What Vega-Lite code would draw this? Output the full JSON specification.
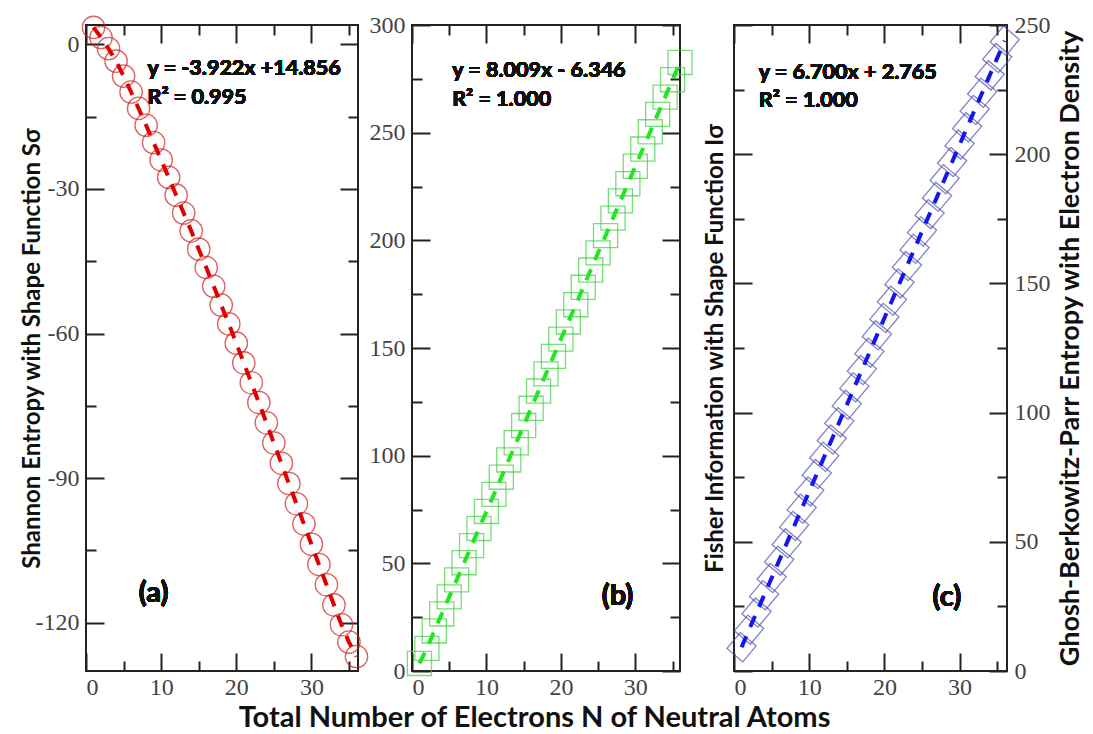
{
  "$schema": "https://vega.github.io/schema/vega-lite/v6.json",
  "background": "white",
  "padding": {"left": 19, "top": 12, "right": 0, "bottom": 0},
  "autosize": {"type": "pad"},
  "bounds": "flush",
  "spacing": 54,
  "config": {
    "view": {"stroke": "#222", "strokeWidth": 2},
    "axis": {
      "domain": false, "grid": false,
      "labelFont": "Liberation Serif", "labelFontSize": 24, "labelColor": "#444",
      "labelExpr": "replace(datum.label, '−', '-')",
      "tickColor": "#222", "tickWidth": 2,
      "titleFont": "Lato", "titleFontWeight": "bold", "titleFontSize": 24, "titleColor": "#111"
    }
  },
  "datasets": {
    "a": [
      {"N": 1, "v": 3.5}, {"N": 2, "v": 1.4}, {"N": 3, "v": -0.9}, {"N": 4, "v": -3.5},
      {"N": 5, "v": -6.6}, {"N": 6, "v": -9.9}, {"N": 7, "v": -13.3}, {"N": 8, "v": -16.8},
      {"N": 9, "v": -20.4}, {"N": 10, "v": -24.0}, {"N": 11, "v": -27.6}, {"N": 12, "v": -31.3},
      {"N": 13, "v": -35.0}, {"N": 14, "v": -38.7}, {"N": 15, "v": -42.5}, {"N": 16, "v": -46.3},
      {"N": 17, "v": -50.2}, {"N": 18, "v": -54.1}, {"N": 19, "v": -58.0}, {"N": 20, "v": -62.0},
      {"N": 21, "v": -66.1}, {"N": 22, "v": -70.2}, {"N": 23, "v": -74.3}, {"N": 24, "v": -78.5},
      {"N": 25, "v": -82.7}, {"N": 26, "v": -86.9}, {"N": 27, "v": -91.1}, {"N": 28, "v": -95.3},
      {"N": 29, "v": -99.5}, {"N": 30, "v": -103.7}, {"N": 31, "v": -107.9}, {"N": 32, "v": -112.1},
      {"N": 33, "v": -116.3}, {"N": 34, "v": -120.4}, {"N": 35, "v": -124.0}, {"N": 36, "v": -127.0}
    ],
    "b": [
      {"N": 1, "v": 3.5}, {"N": 2, "v": 10.5}, {"N": 3, "v": 18.6}, {"N": 4, "v": 26.5},
      {"N": 5, "v": 34.4}, {"N": 6, "v": 42.3}, {"N": 7, "v": 50.3}, {"N": 8, "v": 58.2},
      {"N": 9, "v": 66.2}, {"N": 10, "v": 74.1}, {"N": 11, "v": 82.0}, {"N": 12, "v": 90.0},
      {"N": 13, "v": 98.0}, {"N": 14, "v": 106.0}, {"N": 15, "v": 114.0}, {"N": 16, "v": 122.0},
      {"N": 17, "v": 130.0}, {"N": 18, "v": 138.0}, {"N": 19, "v": 146.1}, {"N": 20, "v": 154.1},
      {"N": 21, "v": 162.1}, {"N": 22, "v": 170.1}, {"N": 23, "v": 178.2}, {"N": 24, "v": 186.2},
      {"N": 25, "v": 194.2}, {"N": 26, "v": 202.2}, {"N": 27, "v": 210.3}, {"N": 28, "v": 218.3},
      {"N": 29, "v": 226.3}, {"N": 30, "v": 234.4}, {"N": 31, "v": 242.4}, {"N": 32, "v": 250.4},
      {"N": 33, "v": 258.5}, {"N": 34, "v": 266.5}, {"N": 35, "v": 274.6}, {"N": 36, "v": 282.6}
    ],
    "c": [
      {"N": 1, "v": 9.2}, {"N": 2, "v": 16.0}, {"N": 3, "v": 22.6}, {"N": 4, "v": 29.3},
      {"N": 5, "v": 36.0}, {"N": 6, "v": 42.7}, {"N": 7, "v": 49.4}, {"N": 8, "v": 56.1},
      {"N": 9, "v": 62.8}, {"N": 10, "v": 69.5}, {"N": 11, "v": 76.2}, {"N": 12, "v": 82.9},
      {"N": 13, "v": 89.6}, {"N": 14, "v": 96.3}, {"N": 15, "v": 103.0}, {"N": 16, "v": 109.8},
      {"N": 17, "v": 116.5}, {"N": 18, "v": 123.2}, {"N": 19, "v": 129.9}, {"N": 20, "v": 136.6},
      {"N": 21, "v": 143.3}, {"N": 22, "v": 150.0}, {"N": 23, "v": 156.7}, {"N": 24, "v": 163.4},
      {"N": 25, "v": 170.1}, {"N": 26, "v": 176.8}, {"N": 27, "v": 183.5}, {"N": 28, "v": 190.3},
      {"N": 29, "v": 197.0}, {"N": 30, "v": 203.7}, {"N": 31, "v": 210.4}, {"N": 32, "v": 217.1},
      {"N": 33, "v": 223.8}, {"N": 34, "v": 230.5}, {"N": 35, "v": 237.2}, {"N": 36, "v": 243.9}
    ]
  },
  "hconcat": [
    {
      "width": 272, "height": 646,
      "data": {"name": "a"},
      "resolve": {"axis": {"x": "independent", "y": "independent"}},
      "layer": [
        {
          "mark": {"type": "point", "shape": "circle", "size": 500, "filled": false, "stroke": "#d02020", "strokeWidth": 1.3, "clip": false},
          "encoding": {
            "x": {"field": "N", "type": "quantitative", "scale": {"domain": [0, 36.2], "nice": false, "zero": false},
                  "axis": {"orient": "bottom", "values": [0, 10, 20, 30], "tickSize": -18, "labelPadding": 22, "title": null}},
            "y": {"field": "v", "type": "quantitative", "scale": {"domain": [-130, 4], "nice": false, "zero": false},
                  "axis": {"orient": "left", "values": [0, -30, -60, -90, -120], "tickSize": -18, "labelPadding": 25, "title": "Shannon Entropy with Shape Function Sσ", "titlePadding": -9}}
          }
        },
        {
          "mark": {"type": "line", "stroke": "#e00000", "strokeWidth": 4, "strokeDash": [12, 10]},
          "encoding": {
            "x": {"field": "N", "type": "quantitative", "axis": {"orient": "bottom", "values": [5, 15, 25, 35], "tickSize": -10, "labels": false, "title": null}},
            "y": {"field": "v", "type": "quantitative", "axis": {"orient": "left", "values": [-15, -45, -75, -105], "tickSize": -10, "labels": false, "title": null}}
          }
        },
        {
          "mark": {"type": "text", "text": "y = -3.922x +14.856", "font": "Lato", "fontWeight": "bold", "fontSize": 21.5, "align": "left", "baseline": "middle", "fill": "#111"},
          "encoding": {
            "x": {"datum": 8.2, "type": "quantitative", "axis": {"orient": "top", "values": [0, 10, 20, 30], "tickSize": -18, "labels": false, "title": null}},
            "y": {"datum": -5.2, "type": "quantitative", "axis": {"orient": "right", "values": [0, -30, -60, -90, -120], "tickSize": -18, "labels": false, "title": null}}
          }
        },
        {
          "mark": {"type": "text", "text": "R² = 0.995", "font": "Lato", "fontWeight": "bold", "fontSize": 21.5, "align": "left", "baseline": "middle", "fill": "#111"},
          "encoding": {
            "x": {"datum": 8.2, "type": "quantitative", "axis": {"orient": "top", "values": [5, 15, 25, 35], "tickSize": -10, "labels": false, "title": null}},
            "y": {"datum": -11.2, "type": "quantitative", "axis": {"orient": "right", "values": [-15, -45, -75, -105], "tickSize": -10, "labels": false, "title": null}}
          }
        },
        {
          "mark": {"type": "text", "text": "(a)", "font": "Lato", "fontWeight": "bold", "fontSize": 29, "align": "center", "baseline": "middle", "fill": "#111"},
          "encoding": {
            "x": {"datum": 9.0, "type": "quantitative", "axis": null},
            "y": {"datum": -113.9, "type": "quantitative", "axis": null}
          }
        }
      ]
    },
    {
      "width": 268, "height": 646,
      "data": {"name": "b"},
      "resolve": {"axis": {"x": "independent", "y": "independent"}},
      "layer": [
        {
          "mark": {"type": "point", "shape": "square", "size": 580, "filled": false, "stroke": "#3fcf3f", "strokeWidth": 1.3, "clip": false},
          "encoding": {
            "x": {"field": "N", "type": "quantitative", "scale": {"domain": [0, 36], "nice": false, "zero": false},
                  "axis": {"orient": "bottom", "values": [0, 10, 20, 30], "tickSize": -18, "labelPadding": 22, "title": "Total Number of Electrons N of Neutral Atoms", "titleFontSize": 29, "titlePadding": 4, "titleX": 122, "titleAlign": "center"}},
            "y": {"field": "v", "type": "quantitative", "scale": {"domain": [0, 300], "nice": false, "zero": false},
                  "axis": {"orient": "left", "values": [0, 50, 100, 150, 200, 250, 300], "tickSize": -18, "labelPadding": 25, "title": null}}
          }
        },
        {
          "mark": {"type": "line", "stroke": "#22e622", "strokeWidth": 4, "strokeDash": [12, 10]},
          "encoding": {
            "x": {"field": "N", "type": "quantitative", "axis": {"orient": "bottom", "values": [5, 15, 25, 35], "tickSize": -10, "labels": false, "title": null}},
            "y": {"field": "v", "type": "quantitative", "axis": {"orient": "left", "values": [25, 75, 125, 175, 225, 275], "tickSize": -10, "labels": false, "title": null}}
          }
        },
        {
          "mark": {"type": "text", "text": "y = 8.009x - 6.346", "font": "Lato", "fontWeight": "bold", "fontSize": 21.5, "align": "left", "baseline": "middle", "fill": "#111"},
          "encoding": {
            "x": {"datum": 5.4, "type": "quantitative", "axis": {"orient": "top", "values": [0, 10, 20, 30], "tickSize": -18, "labels": false, "title": null}},
            "y": {"datum": 278.7, "type": "quantitative", "axis": {"orient": "right", "values": [0, 50, 100, 150, 200, 250, 300], "tickSize": -18, "labels": false, "title": "Fisher Information with Shape Function Iσ", "titleAngle": 270, "titlePadding": 46}}
          }
        },
        {
          "mark": {"type": "text", "text": "R² = 1.000", "font": "Lato", "fontWeight": "bold", "fontSize": 21.5, "align": "left", "baseline": "middle", "fill": "#111"},
          "encoding": {
            "x": {"datum": 5.4, "type": "quantitative", "axis": {"orient": "top", "values": [5, 15, 25, 35], "tickSize": -10, "labels": false, "title": null}},
            "y": {"datum": 265.2, "type": "quantitative", "axis": {"orient": "right", "values": [25, 75, 125, 175, 225, 275], "tickSize": -10, "labels": false, "title": null}}
          }
        },
        {
          "mark": {"type": "text", "text": "(b)", "font": "Lato", "fontWeight": "bold", "fontSize": 29, "align": "center", "baseline": "middle", "fill": "#111"},
          "encoding": {
            "x": {"datum": 27.6, "type": "quantitative", "axis": null},
            "y": {"datum": 34.8, "type": "quantitative", "axis": null}
          }
        }
      ]
    },
    {
      "width": 273, "height": 646,
      "data": {"name": "c"},
      "resolve": {"axis": {"x": "independent", "y": "independent"}},
      "layer": [
        {
          "mark": {"type": "point", "shape": "square", "angle": 40, "size": 430, "filled": false, "stroke": "#5050b0", "strokeWidth": 1.3, "clip": false},
          "encoding": {
            "x": {"field": "N", "type": "quantitative", "scale": {"domain": [0, 36.3], "nice": false, "zero": false},
                  "axis": {"orient": "bottom", "values": [0, 10, 20, 30], "tickSize": -18, "labelPadding": 22, "title": null}},
            "y": {"field": "v", "type": "quantitative", "scale": {"domain": [0, 250], "nice": false, "zero": false},
                  "axis": {"orient": "right", "values": [0, 50, 100, 150, 200, 250], "tickSize": -18, "labelPadding": 25, "title": "Ghosh-Berkowitz-Parr Entropy with Electron Density", "titleFontSize": 27, "titleAngle": 270, "titlePadding": 34}}
          }
        },
        {
          "mark": {"type": "line", "stroke": "#1515f0", "strokeWidth": 4, "strokeDash": [12, 10]},
          "encoding": {
            "x": {"field": "N", "type": "quantitative", "axis": {"orient": "bottom", "values": [5, 15, 25, 35], "tickSize": -10, "labels": false, "title": null}},
            "y": {"field": "v", "type": "quantitative", "axis": {"orient": "right", "values": [25, 75, 125, 175, 225], "tickSize": -10, "labels": false, "title": null}}
          }
        },
        {
          "mark": {"type": "text", "text": "y = 6.700x + 2.765", "font": "Lato", "fontWeight": "bold", "fontSize": 21.5, "align": "left", "baseline": "middle", "fill": "#111"},
          "encoding": {
            "x": {"datum": 3.3, "type": "quantitative", "axis": {"orient": "top", "values": [0, 10, 20, 30], "tickSize": -18, "labels": false, "title": null}},
            "y": {"datum": 231.5, "type": "quantitative", "axis": {"orient": "left", "values": [0, 50, 100, 150, 200, 250], "tickSize": -18, "labels": false, "title": null}}
          }
        },
        {
          "mark": {"type": "text", "text": "R² = 1.000", "font": "Lato", "fontWeight": "bold", "fontSize": 21.5, "align": "left", "baseline": "middle", "fill": "#111"},
          "encoding": {
            "x": {"datum": 3.3, "type": "quantitative", "axis": {"orient": "top", "values": [5, 15, 25, 35], "tickSize": -10, "labels": false, "title": null}},
            "y": {"datum": 220.4, "type": "quantitative", "axis": {"orient": "left", "values": [25, 75, 125, 175, 225], "tickSize": -10, "labels": false, "title": null}}
          }
        },
        {
          "mark": {"type": "text", "text": "(c)", "font": "Lato", "fontWeight": "bold", "fontSize": 29, "align": "center", "baseline": "middle", "fill": "#111"},
          "encoding": {
            "x": {"datum": 28.3, "type": "quantitative", "axis": null},
            "y": {"datum": 28.8, "type": "quantitative", "axis": null}
          }
        }
      ]
    }
  ]
}
